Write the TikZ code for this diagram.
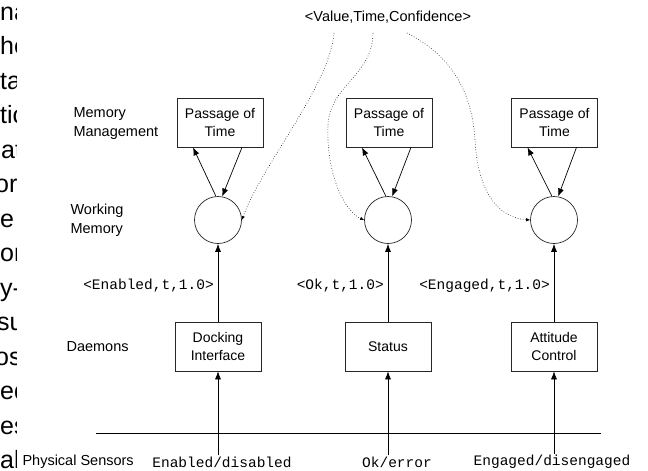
\documentclass[tikz,border=0pt]{standalone}
\usepackage{fontspec}
\setmainfont{Liberation Sans}
\setmonofont{Liberation Mono}
\usepackage{tikz}
\usetikzlibrary{arrows.meta,positioning,calc}

\begin{document}
\begin{tikzpicture}[x=1pt,y=-1pt,
    membox/.style={draw=black!85,line width=0.7pt,minimum width=86pt,
      minimum height=49pt,inner sep=1pt,align=center,
      font=\fontsize{14}{18}\selectfont},
    wmcirc/.style={draw=black!85,line width=0.7pt,circle,minimum size=47pt,inner sep=0pt},
    layerlabel/.style={align=left,anchor=west,font=\fontsize{14.5}{19}\selectfont},
    tuple/.style={font=\ttfamily\fontsize{14.5}{17}\selectfont,inner sep=1pt},
    frag/.style={font=\fontsize{25}{30}\selectfont,inner sep=0pt},
    link/.style={line width=0.7pt,-{Latex[length=8pt,width=6pt]}},
    feed/.style={line width=0.6pt,dotted,-{Latex[length=4pt,width=3.5pt]}}
  ]
    \useasboundingbox (0,0) rectangle (648,471);

    % clipped text of the neighbouring page
    \begin{scope}
      \clip (0,0) rectangle (16.5,471);
      \foreach \txt/\dx [count=\i] in {na/0,he/0,ta/0,tic/0,at/1,ore/-5,e/0,
          on/0,y-/0,su/-3,os/-5,ed/0,es/0,al/0}
        \node[frag,anchor=base west] (frag\i) at (\dx,{20+34.5*(\i-1)}) {\txt};
    \end{scope}

    % layer names
    \node[layerlabel] (lmm) at (70,124) {Memory\\Management};
    \node[layerlabel] (lwm) at (67,220) {Working\\Memory};
    \node[layerlabel] (ldm) at (63,347) {Daemons};
    \node[layerlabel] (lps) at (19,462) {Physical Sensors};

    \node[font=\fontsize{14.5}{17}\selectfont] (vtc) at (388,17)
      {<Value,Time,Confidence>};

    % memory management
    \node[membox] (passL) at (220,122.5) {Passage of\\Time};
    \node[membox] (passM) at (389,122.5) {Passage of\\Time};
    \node[membox] (passR) at (554.5,122.5) {Passage of\\Time};

    % working memory
    \node[wmcirc] (wmL) at (218,220) {};
    \node[wmcirc] (wmM) at (388,220) {};
    \node[wmcirc] (wmR) at (554,220) {};

    % daemons
    \node[membox] (dmL) at (218,346.5) {Docking\\Interface};
    \node[membox] (dmM) at (388,346.5) {Status};
    \node[membox] (dmR) at (554,346.5) {Attitude\\Control};

    % sensors
    \draw[line width=0.7pt] (96,433) coordinate (busL) -- (601,433) coordinate (busR);
    \node[tuple] (senL) at (222,462) {Enabled/disabled};
    \node[tuple] (senM) at (397,462) {Ok/error};
    \node[tuple] (senR) at (552,462) {Engaged/disengaged};

    \draw[link] (senL.north -| dmL) -- (dmL);
    \draw[link] (senM.north -| dmM) -- (dmM);
    \draw[link] (senR.north -| dmR) -- (dmR);

    \draw[link] (dmL) -- (wmL);
    \draw[link] (dmM) -- (wmM);
    \draw[link] (dmR) -- (wmR);
    \node[tuple,anchor=east] (tupL) at (215,286) {<Enabled,t,1.0>};
    \node[tuple,anchor=east] (tupM) at (385,286) {<Ok,t,1.0>};
    \node[tuple,anchor=east] (tupR) at (551,286) {<Engaged,t,1.0>};

    \draw[link] (wmL.95) -- ([xshift=-27pt]passL.south);
    \draw[link] ([xshift=22pt]passL.south) -- (wmL.80);
    \draw[link] (wmM.95) -- ([xshift=-27pt]passM.south);
    \draw[link] ([xshift=22pt]passM.south) -- (wmM.80);
    \draw[link] (wmR.95) -- ([xshift=-27pt]passR.south);
    \draw[link] ([xshift=22pt]passR.south) -- (wmR.80);

    % value feed
    \coordinate (d1) at (334,33);
    \coordinate (d2) at (373,33);
    \coordinate (d3) at (407,33);
    \draw[feed] (d1) .. controls (330,85) and (262,165) .. (wmL.east);
    \draw[feed] (d2) .. controls (373,75) and (330,85) .. (328,125)
      .. controls (326,175) and (345,212) .. (wmM.west);
    \draw[feed] (d3) .. controls (450,55) and (472,90) .. (475,140)
      .. controls (478,195) and (500,218) .. (wmR.west);
  \end{tikzpicture}
\end{document}
